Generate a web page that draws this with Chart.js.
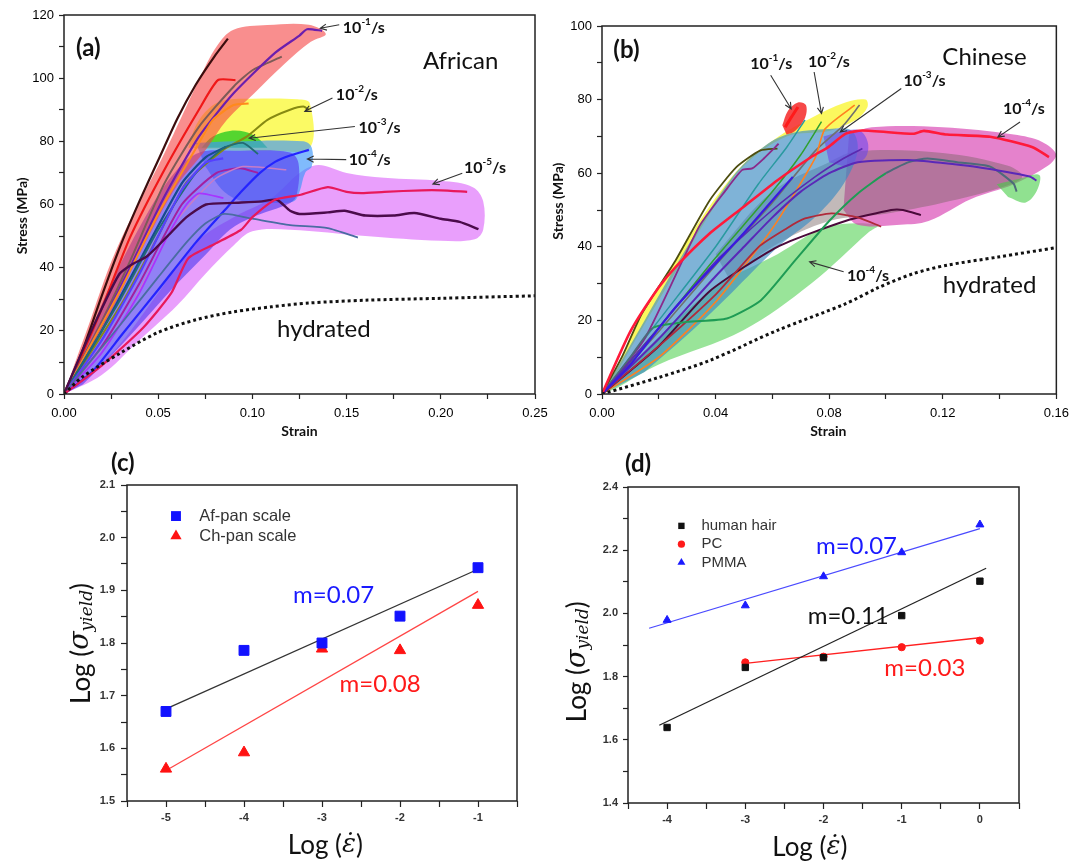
<!DOCTYPE html>
<html>
<head>
<meta charset="utf-8">
<title>Hair stress-strain vs strain rate</title>
<script src="https://cdn.jsdelivr.net/npm/chart.js@4.4.1/dist/chart.umd.min.js"></script>
<style>
  body { margin: 0; background: #fff; }
  #fig { position: relative; width: 1076px; height: 861px; overflow: hidden; }
  #fig canvas { position: absolute; }
</style>
</head>
<body>
<div id="fig">
  <canvas id="panelA" width="560" height="450" style="left:0;top:0"></canvas>
  <canvas id="panelB" width="536" height="450" style="left:540px;top:0"></canvas>
  <canvas id="panelC" width="540" height="421" style="left:0;top:440px"></canvas>
  <canvas id="panelD" width="536" height="421" style="left:540px;top:440px"></canvas>
</div>
<script>
// ---------- (a) African hair: [strain, stress MPa] ----------
const afDarkBrown = [[0,0],[0.01,14],[0.02,31],[0.03,47],[0.04,61],[0.05,74],[0.06,87],[0.07,98],[0.08,107],[0.087,112.5]];
const afRed = [[0,0],[0.01,13],[0.02,27],[0.035,49.5],[0.0533,71],[0.0716,90],[0.0817,99.4],[0.091,99.4]];
const afGrayBrown = [[0,0],[0.02,23],[0.035,42],[0.0533,66.7],[0.0716,84.6],[0.09,97.3],[0.1,102.5],[0.1156,106.8]];
const afPurple = [[0,0],[0.02,22],[0.035,40],[0.0533,62.5],[0.0716,81.5],[0.09,95.2],[0.112,108],[0.125,113.5],[0.129,115.5],[0.137,115]];
const afOrange = [[0,0],[0.03,33],[0.05,57],[0.0716,79.4],[0.079,86.8],[0.09,91.5],[0.098,92]];
const afOlive = [[0,0],[0.03,28],[0.05,50],[0.065,67],[0.0845,77.3],[0.097,81.5],[0.108,86.8],[0.12,90],[0.127,91],[0.13,90]];
const afNavy = [[0,0],[0.02,20],[0.04,42],[0.0625,66.7],[0.0753,75],[0.086,78.3]];
const afTeal = [[0,0],[0.03,30],[0.05,52],[0.07,70],[0.085,78],[0.095,79.5],[0.103,76]];
const afBlue = [[0,0],[0.02,17],[0.04,38],[0.0625,64.6],[0.0753,73.3],[0.0845,74.6]];
const afMagenta = [[0,0],[0.02,15],[0.04,35],[0.0625,60],[0.081,70],[0.0936,71.5],[0.103,70]];
const afPink = [[0,0],[0.03,22],[0.06,55],[0.08,68],[0.095,72],[0.118,71]];
const afBrightBlue = [[0,0],[0.015,7],[0.031,19],[0.05,33],[0.07,48],[0.085,58],[0.094,64],[0.104,70],[0.112,73.5],[0.12,75.5],[0.13,77.3]];
const afViolet = [[0,0],[0.02,13],[0.04,32],[0.055,50],[0.065,60],[0.0716,63.5],[0.0846,62]];
const afDarkPurple = [[0,0],[0.01,14],[0.02,27],[0.0294,38],[0.036,41],[0.0441,43.6],[0.055,50],[0.065,56],[0.0754,60],[0.09,60.5],[0.105,61],[0.113,61.5],[0.12,58],[0.125,57],[0.14,57.5],[0.149,58],[0.16,56.5],[0.175,56.5],[0.186,57.3],[0.2,55.5],[0.21,54.5],[0.22,52.2]];
const afSteel = [[0,0],[0.03,22],[0.05,37],[0.065,48],[0.075,54],[0.085,57],[0.1,55.5],[0.12,53.5],[0.14,52.5],[0.156,49.5]];
const afCrimson = [[0,0],[0.02,9],[0.042,21],[0.057,32],[0.066,43],[0.08,47.5],[0.094,52],[0.1,56],[0.112,61.5],[0.125,63],[0.14,65.5],[0.15,64],[0.158,63.6],[0.17,64],[0.19,64.5],[0.2,64.5],[0.214,64]];
const afHydrated = [[0,0],[0.01,5.5],[0.03,13],[0.05,19.5],[0.07,23.5],[0.09,26],[0.11,27.6],[0.13,28.8],[0.16,29.7],[0.2,30.3],[0.25,31.1]];
// shaded envelopes (outline of each rate group)
const afRedZone = [[0,0],[0.012,20],[0.0277,45.6],[0.0533,76.2],[0.0716,99.4],[0.081,110],[0.09,115.3],[0.108,116.8],[0.13,116.9],[0.139,114],[0.131,111.5],[0.1174,104.7],[0.101,95.2],[0.0865,86.8],[0.0753,77.3],[0.06,66],[0.045,50],[0.03,32],[0.015,14],[0.005,3]];
const afYellowZone = [[0.066,78],[0.07,85],[0.077,90.5],[0.085,93],[0.1,93.5],[0.124,93.3],[0.1305,92],[0.1305,78],[0.11,77],[0.09,77]];
const afGreenZone = [[0.073,78],[0.079,81.5],[0.088,83.3],[0.096,83],[0.103,81],[0.108,78]];
const afBlueZone = [[0.07,79.5],[0.09,80],[0.127,80],[0.1315,78],[0.1315,72],[0.128,70],[0.125,64],[0.122,61],[0.11,60.5],[0.095,61],[0.085,64],[0.075,72]];
const afFanZone = [[0,0],[0.01,14],[0.025,35],[0.045,58],[0.06,71],[0.072,76.5],[0.09,77],[0.12,76.5],[0.1245,73],[0.1235,63],[0.12,60.5],[0.1,56],[0.088,52],[0.075,44],[0.057,33],[0.042,23],[0.025,12],[0.01,3]];
const afMagentaZone = [[0,0],[0.02,6],[0.04,17],[0.06,28],[0.075,38],[0.09,47],[0.1,51.5],[0.12,52],[0.16,50],[0.2,48.5],[0.218,49],[0.2225,52],[0.2225,61],[0.217,65.5],[0.2,67.5],[0.17,68.5],[0.15,70],[0.135,72.5],[0.125,70],[0.11,62],[0.09,56],[0.07,48],[0.05,32],[0.03,16],[0.012,5]];

// ---------- (b) Chinese hair ----------
const chOlive = [[0,0],[0.007,10],[0.014,21.8],[0.0259,36.3],[0.0379,52.6],[0.0474,61.7],[0.0558,66.2],[0.0618,66.7]];
const chPurple = [[0,0],[0.015,15],[0.0342,45.5],[0.0436,55.4],[0.0494,60.9],[0.0529,61.3],[0.057,64],[0.0622,68]];
const chTeal = [[0,0],[0.02,20],[0.04,40],[0.055,57],[0.065,67],[0.0715,74.5]];
const chGreen = [[0,0],[0.02,18],[0.04,37],[0.06,55],[0.07,65],[0.0773,74]];
const chOrange = [[0,0],[0.02,10],[0.04,25],[0.06,45],[0.075,64],[0.0785,72],[0.089,78.5]];
const chGray = [[0,0],[0.02,17],[0.04,35],[0.06,52],[0.075,66],[0.085,73],[0.0907,78.5]];
const chRed = [[0,0],[0.01,17],[0.02,29],[0.0259,34.5],[0.0379,43.6],[0.0498,50.8],[0.0618,58.1],[0.0737,64.4],[0.0797,67.1],[0.0857,70.7],[0.0917,71.6],[0.1096,70.7],[0.1134,71.5],[0.1215,70.5],[0.1367,69.9],[0.1514,67.1],[0.1574,64.4]];
const chRedShort = [[0.0645,72.5],[0.0665,75],[0.069,78]];
const chBlue = [[0,0],[0.01,8],[0.0259,23.6],[0.0498,43.6],[0.0672,59]];
const chIndigo = [[0,0],[0.02,18],[0.04,36],[0.06,50],[0.075,59],[0.085,64],[0.0917,66.7]];
const chIndigoLong = [[0,0],[0.02,15],[0.04,32],[0.05,40],[0.06,48],[0.07,55],[0.08,60],[0.0901,63],[0.1076,63.6],[0.12,62.8],[0.1309,61.8],[0.1506,59.1],[0.153,58]];
const chGreenGray = [[0,0],[0.01,10],[0.018,18],[0.03,19.6],[0.044,20.5],[0.056,25.5],[0.068,36.3],[0.08,47],[0.0901,54.5],[0.1,60],[0.108,63],[0.1146,64],[0.125,63],[0.1367,61.8],[0.1449,57.2],[0.146,55]];
const chDarkRed = [[0,0],[0.02,13],[0.04,27],[0.0552,40],[0.065,45],[0.0715,47.7],[0.0808,49.1],[0.09,48],[0.0983,45.5]];
const chDarkPurple = [[0,0],[0.02,13],[0.038,28],[0.0618,40],[0.0857,47],[0.1018,50],[0.106,50],[0.1123,48.6]];
const chHydrated = [[0,0],[0.02,4.5],[0.0379,9.1],[0.0618,17.3],[0.0857,24.5],[0.0976,29],[0.1096,32.7],[0.1215,35],[0.1394,37.2],[0.16,39.8]];
const chGreenZone = [[0,0],[0.0379,28],[0.0618,38],[0.0797,45.5],[0.0976,46],[0.094,44],[0.0737,30],[0.0498,17.3],[0.02,8],[0.005,1.5]];
const chPinkZone = [[0.087,70.5],[0.095,72.5],[0.12,72.5],[0.145,70.5],[0.155,68.5],[0.16,65],[0.157,62],[0.145,57],[0.13,53],[0.115,47],[0.105,46],[0.09,46],[0.085,50]];
const chBrownZone = [[0.04,38],[0.06,55],[0.08,63],[0.09,66],[0.12,65.5],[0.143,62],[0.148,59],[0.14,56],[0.12,52],[0.1,49],[0.08,47],[0.06,40],[0.045,31]];
const chYellowZone = [[0,0],[0.006,8],[0.0128,20],[0.0259,36.5],[0.0379,51],[0.0498,62.5],[0.0618,69.8],[0.0737,75],[0.0857,79.2],[0.0928,80],[0.0935,78],[0.0895,74.5],[0.08,71.5],[0.065,70],[0.05,62],[0.038,49],[0.025,32],[0.012,15],[0.004,4]];
const chTealZone = [[0,0],[0.015,20],[0.03,40],[0.045,58],[0.055,66],[0.065,70.5],[0.08,72],[0.088,71.5],[0.09,66],[0.085,57],[0.075,48],[0.062,40],[0.045,27],[0.03,16],[0.015,6]];
const chPurpleZone = [[0.078,70],[0.085,71.5],[0.091,71.5],[0.0937,68],[0.0925,64],[0.086,62],[0.08,63]];
const chGreenTipZone = [[0.139,57],[0.147,58.5],[0.154,59.5],[0.153,55],[0.149,52],[0.143,53.5]];
const chRedZone = [[0.0635,73],[0.0655,77],[0.069,79.2],[0.0718,78.5],[0.0715,75],[0.068,71.5],[0.065,70.5]];

// ---------- (c) log yield stress vs log strain rate ----------
const rateC = [-5, -4, -3, -2, -1];
const afPanYield = [1.670, 1.786, 1.800, 1.851, 1.943];
const chPanYield = [1.561, 1.592, 1.789, 1.786, 1.872];
const fitRangeC = [-5, -1];
const afPanFit = [1.675, 1.940];
const chPanFit = [1.558, 1.898];

// ---------- (d) hair vs polymers ----------
const rateD = [-4, -3, -2, -1, 0];
const ratePC = [-3, -2, -1, 0];
const hairYield = [1.639, 1.829, 1.860, 1.993, 2.102];
const pcYield = [1.845, 1.863, 1.893, 1.914];
const pmmaYield = [1.979, 2.025, 2.117, 2.193, 2.281];
const hairFitX = [-4.1, 0.08], hairFit = [1.646, 2.143];
const pcFitX = [-3, 0], pcFit = [1.842, 1.923];
const pmmaFitX = [-4.23, 0], pmmaFit = [1.953, 2.268];

// ---------- helpers ----------
const pts = arr => arr.map(p => ({ x: p[0], y: p[1] }));
const zip = (xs, ys) => xs.map((x, i) => ({ x: x, y: ys[i] }));
const isMajor = (v, m) => Math.abs(v / m - Math.round(v / m)) < 1e-6;

function curve(data, color, width) {
  return { data: pts(data), borderColor: color, borderWidth: width || 2, pointRadius: 0, fill: false, tension: 0.2, order: 1 };
}
function zone(data, color, layer) {
  return { data: pts(data), borderColor: 'rgba(0,0,0,0)', borderWidth: 0, backgroundColor: color, pointRadius: 0, fill: 'shape', tension: 0.35, order: 50 - layer };
}
function hydrated(data) {
  return { data: pts(data), borderColor: '#111', borderWidth: 3, borderDash: [3, 3], pointRadius: 0, fill: false, tension: 0.3, order: 0 };
}
function markers(data, color, style, radius) {
  return { data: data, showLine: false, pointStyle: style, pointRadius: radius, backgroundColor: color, borderColor: color, pointBorderWidth: 1, order: 0 };
}
function fitLine(data, color) {
  return { data: data, borderColor: color, borderWidth: 1.3, pointRadius: 0, fill: false, order: 1 };
}
const rate = (exp, x, y) => ({ x: x, y: y, align: 'left', parts: [
  { text: '10', font: 'bold 16px Lato' }, { text: '-' + exp, font: 'bold 10px Lato', dy: -6 }, { text: '/s', font: 'bold 16px Lato' }] });
const word = (text, font, x, y, color) => ({ x: x, y: y, align: 'center', parts: [{ text: text, font: font, color: color }] });

function drawParts(ctx, label, px, py) {
  ctx.save();
  ctx.translate(px, py);
  if (label.rotate) ctx.rotate(label.rotate);
  ctx.textBaseline = 'middle';
  ctx.textAlign = 'left';
  const widths = label.parts.map(p => { ctx.font = p.font; return ctx.measureText(p.text).width; });
  let cx = label.align === 'center' ? -widths.reduce((a, b) => a + b, 0) / 2 : 0;
  label.parts.forEach((p, i) => {
    ctx.font = p.font;
    ctx.fillStyle = p.color || '#111';
    ctx.fillText(p.text, cx, p.dy || 0);
    cx += widths[i];
  });
  ctx.restore();
}

function drawArrow(ctx, x1, y1, x2, y2) {
  const ang = Math.atan2(y2 - y1, x2 - x1), h = 7;
  ctx.beginPath();
  ctx.moveTo(x1, y1); ctx.lineTo(x2, y2);
  ctx.moveTo(x2 - h * Math.cos(ang - 0.45), y2 - h * Math.sin(ang - 0.45));
  ctx.lineTo(x2, y2);
  ctx.lineTo(x2 - h * Math.cos(ang + 0.45), y2 - h * Math.sin(ang + 0.45));
  ctx.strokeStyle = '#333';
  ctx.lineWidth = 1.1;
  ctx.stroke();
}

function drawMarker(ctx, shape, x, y, r, color) {
  ctx.fillStyle = color;
  ctx.beginPath();
  if (shape === 'rect') {
    const s = r * Math.SQRT1_2;
    ctx.rect(x - s, y - s, 2 * s, 2 * s);
  } else if (shape === 'triangle') {
    for (let k = 0; k < 3; k++) {
      const a = k * 2 * Math.PI / 3;
      ctx[k ? 'lineTo' : 'moveTo'](x + Math.sin(a) * r, y - Math.cos(a) * r);
    }
    ctx.closePath();
  } else {
    ctx.arc(x, y, r, 0, Math.PI * 2);
  }
  ctx.fill();
}

// frame, free text, arrows and legend, all placed in data units
const decor = {
  id: 'decor',
  afterDraw(chart, args, opts) {
    const { ctx, chartArea: a } = chart;
    const sx = chart.scales.x, sy = chart.scales.y;
    ctx.save();
    ctx.strokeStyle = '#222';
    ctx.lineWidth = 1.5;
    ctx.strokeRect(a.left, a.top, a.right - a.left, a.bottom - a.top);
    (opts.arrows || []).forEach(r => drawArrow(ctx, sx.getPixelForValue(r[0]), sy.getPixelForValue(r[1]), sx.getPixelForValue(r[2]), sy.getPixelForValue(r[3])));
    (opts.labels || []).forEach(l => drawParts(ctx, l, sx.getPixelForValue(l.x), sy.getPixelForValue(l.y)));
    (opts.legend || []).forEach(l => {
      drawMarker(ctx, l.shape, sx.getPixelForValue(l.x), sy.getPixelForValue(l.y), l.r, l.color);
      ctx.font = opts.legendFont;
      ctx.fillStyle = '#333';
      ctx.textBaseline = 'middle';
      ctx.fillText(l.text, sx.getPixelForValue(l.tx), sy.getPixelForValue(l.y));
    });
    ctx.restore();
  }
};

function linearAxis(cfg) {
  return {
    type: 'linear', min: cfg.min, max: cfg.max,
    afterFit: s => { if (cfg.height) s.height = cfg.height; if (cfg.width) s.width = cfg.width; },
    border: { display: false },
    grid: { display: true, drawOnChartArea: false, drawTicks: true, tickLength: cfg.tick, tickColor: '#222', tickWidth: 1.2 },
    ticks: {
      stepSize: cfg.step, autoSkip: false, maxRotation: 0, padding: cfg.pad, color: cfg.color,
      font: cfg.font,
      callback: v => isMajor(v, cfg.major) ? v.toFixed(cfg.digits) : ''
    }
  };
}

function makeChart(id, datasets, axes, padding, decorOpts) {
  return new Chart(document.getElementById(id), {
    type: 'line',
    data: { datasets: datasets },
    options: {
      responsive: false, animation: false, events: [],
      layout: { padding: padding },
      plugins: { legend: { display: false }, tooltip: { enabled: false }, decor: decorOpts },
      scales: { x: axes.x, y: axes.y }
    },
    plugins: [decor]
  });
}

const bigTick = { family: 'Liberation Sans', size: 13 };
const smallTick = { family: 'Liberation Sans', size: 11, weight: 'bold' };
const axisTitle = 'bold 14px Lato';

// ---------- panel (a) ----------
makeChart('panelA', [
  hydrated(afHydrated),
  curve(afCrimson, '#e8195a', 2.2), curve(afDarkPurple, '#4b0b4b', 2.4), curve(afSteel, '#4a6ca2', 1.8),
  curve(afBrightBlue, '#2424ff', 2.2), curve(afViolet, '#a734ff', 1.8), curve(afPink, '#c77cc7', 1.5),
  curve(afMagenta, '#a3209f', 2), curve(afBlue, '#5640ff', 2.2), curve(afTeal, '#226c74', 1.8),
  curve(afNavy, '#164c8c', 2.2), curve(afOlive, '#878a12', 2), curve(afOrange, '#ff8a1c', 2),
  curve(afPurple, '#6b1fae', 2.2), curve(afGrayBrown, '#7d5b57', 2), curve(afRed, '#f01818', 2.2),
  curve(afDarkBrown, '#3c0d0d', 2.2),
  zone(afMagentaZone, 'rgba(220,100,250,0.62)', 0),
  zone(afYellowZone, 'rgba(250,248,40,0.72)', 1),
  zone(afGreenZone, 'rgba(30,200,30,0.75)', 2),
  zone(afBlueZone, 'rgba(60,150,250,0.65)', 3),
  zone(afFanZone, 'rgba(88,64,240,0.66)', 4),
  zone(afRedZone, 'rgba(245,60,60,0.58)', 5)
], {
  x: linearAxis({ min: 0, max: 0.25, step: 0.025, major: 0.05, digits: 2, height: 56, tick: 5, pad: 7, color: '#000', font: bigTick }),
  y: linearAxis({ min: 0, max: 120, step: 10, major: 20, digits: 0, width: 64, tick: 5, pad: 5, color: '#000', font: bigTick })
}, { left: 0, top: 15, right: 25, bottom: 0 }, {
  labels: [
    word('(a)', 'bold 24px Lato', 0.0129, 109.5),
    word('African', '24px Lato', 0.2105, 105.3),
    word('hydrated', '24px Lato', 0.1379, 20.4),
    rate('1', 0.148, 115.8), rate('2', 0.1443, 94.7), rate('3', 0.1563, 84.4),
    rate('4', 0.1511, 74.2), rate('5', 0.2123, 71.5),
    word('Strain', axisTitle, 0.125, -12),
    Object.assign(word('Stress (MPa)', axisTitle, -0.0223, 56.4), { rotate: -Math.PI / 2 })
  ],
  arrows: [
    [0.1461, 116.9, 0.136, 115.8], [0.1425, 93.7, 0.1278, 89.5], [0.1544, 84.7, 0.0983, 81],
    [0.1498, 74.2, 0.1292, 74.4], [0.2114, 69.9, 0.1958, 66.5]
  ]
});

// ---------- panel (b) ----------
const greenGray = curve(chGreenGray, '#4d6a7a', 2);
greenGray.segment = { borderColor: c => c.p0.parsed.x < 0.092 && c.p0.parsed.x > 0.015 ? '#1f9c55' : '#4d6a7a' };
makeChart('panelB', [
  hydrated(chHydrated),
  curve(chRed, '#ff1a3a', 2.6), curve(chRedShort, '#ff1a1a', 3),
  curve(chBlue, '#3a1ae0', 2.2), curve(chIndigo, '#5a2ab0', 1.6), curve(chIndigoLong, '#5a28b8', 2),
  greenGray, curve(chDarkRed, '#b02a3a', 1.8), curve(chDarkPurple, '#4a0a3a', 2),
  curve(chPurple, '#8a2a8a', 1.8), curve(chTeal, '#2a9aa0', 1.5), curve(chGreen, '#30a030', 1.5),
  curve(chOrange, '#ff8020', 1.6), curve(chGray, '#707070', 1.6), curve(chOlive, '#4e4e10', 1.8),
  zone(chGreenZone, 'rgba(70,205,70,0.55)', 0),
  zone(chPinkZone, 'rgba(215,60,175,0.64)', 1),
  zone(chBrownZone, 'rgba(120,100,100,0.45)', 2),
  zone(chYellowZone, 'rgba(250,245,40,0.75)', 3),
  zone(chTealZone, 'rgba(60,140,195,0.66)', 4),
  zone(chPurpleZone, 'rgba(110,70,235,0.6)', 5),
  zone(chGreenTipZone, 'rgba(70,205,70,0.6)', 6),
  zone(chRedZone, 'rgba(245,40,40,0.85)', 7)
], {
  x: linearAxis({ min: 0, max: 0.16, step: 0.02, major: 0.04, digits: 2, height: 56, tick: 5, pad: 7, color: '#000', font: bigTick }),
  y: linearAxis({ min: 0, max: 100, step: 10, major: 20, digits: 0, width: 62, tick: 5, pad: 5, color: '#000', font: bigTick })
}, { left: 0, top: 26, right: 16, bottom: 0 }, {
  labels: [
    word('(b)', 'bold 24px Lato', 0.0086, 93.4),
    word('Chinese', '24px Lato', 0.1347, 91.6),
    word('hydrated', '24px Lato', 0.1365, 29.5),
    rate('1', 0.0522, 89.8), rate('2', 0.0725, 90.2), rate('3', 0.1062, 85.2),
    rate('4', 0.1412, 77.5), rate('4', 0.0863, 32.2),
    word('Strain', axisTitle, 0.0797, -10.3),
    Object.assign(word('Stress (MPa)', axisTitle, -0.0153, 52.4), { rotate: -Math.PI / 2 })
  ],
  arrows: [
    [0.0594, 86.6, 0.0666, 77.5], [0.0747, 87.5, 0.0773, 76.2], [0.1054, 83, 0.0839, 71.2],
    [0.1472, 73.9, 0.1394, 69.8], [0.0851, 33.2, 0.0731, 35.9]
  ]
});

// ---------- panels (c), (d): axis titles with math ----------
const logRate = (x, y) => ({ x: x, y: y, align: 'center', parts: [
  { text: 'Log (', font: '26px Lato' }, { text: 'ε\u0307', font: 'italic 26px "DejaVu Serif"' }, { text: ')', font: '26px Lato' }] });
const logYield = (x, y) => ({ x: x, y: y, align: 'center', rotate: -Math.PI / 2, parts: [
  { text: 'Log (', font: '26px Lato' }, { text: 'σ', font: 'italic 27px "DejaVu Serif"' },
  { text: 'yield', font: 'italic 17px "DejaVu Serif"', dy: 6 }, { text: ')', font: '26px Lato' }] });

makeChart('panelC', [
  markers(zip(rateC, afPanYield), '#1212ff', 'rect', 7),
  markers(zip(rateC, chPanYield), '#ff1212', 'triangle', 6.5),
  fitLine(zip(fitRangeC, afPanFit), '#333'),
  fitLine(zip(fitRangeC, chPanFit), '#ff4545')
], {
  x: linearAxis({ min: -5.5, max: -0.5, step: 0.5, major: 1, digits: 0, height: 60, tick: 6, pad: 4, color: '#333', font: smallTick }),
  y: linearAxis({ min: 1.5, max: 2.1, step: 0.05, major: 0.1, digits: 1, width: 127, tick: 6, pad: 6, color: '#333', font: smallTick })
}, { left: 0, top: 45, right: 23, bottom: 0 }, {
  labels: [
    word('(c)', 'bold 24px Lato', -5.553, 2.141),
    word('m=0.07', '24px Lato', -2.851, 1.890, '#1a1aff'),
    word('m=0.08', '24px Lato', -2.255, 1.722, '#ff1a1a'),
    logRate(-2.957, 1.416),
    logYield(-6.085, 1.799)
  ],
  legendFont: '16.5px "Liberation Sans"',
  legend: [
    { shape: 'rect', r: 7, color: '#1212ff', x: -4.872, y: 2.041, tx: -4.574, text: 'Af-pan scale' },
    { shape: 'triangle', r: 6.5, color: '#ff1212', x: -4.872, y: 2.003, tx: -4.574, text: 'Ch-pan scale' }
  ]
});

makeChart('panelD', [
  markers(zip(rateD, hairYield), '#111', 'rect', 4.5),
  markers(zip(ratePC, pcYield), '#ff1a1a', 'circle', 3.6),
  markers(zip(rateD, pmmaYield), '#1a1aff', 'triangle', 4.6),
  fitLine(zip(hairFitX, hairFit), '#222'),
  fitLine(zip(pcFitX, pcFit), '#ff2020'),
  fitLine(zip(pmmaFitX, pmmaFit), '#4a4aff')
], {
  x: linearAxis({ min: -4.5, max: 0.5, step: 0.5, major: 1, digits: 0, height: 58, tick: 6, pad: 4, color: '#333', font: smallTick }),
  y: linearAxis({ min: 1.4, max: 2.4, step: 0.1, major: 0.2, digits: 1, width: 88, tick: 5, pad: 5, color: '#333', font: smallTick })
}, { left: 0, top: 47, right: 57, bottom: 0 }, {
  labels: [
    word('(d)', 'bold 24px Lato', -4.371, 2.471),
    word('m=0.07', '24px Lato', -1.578, 2.214, '#1a1aff'),
    word('m=0.11', '24px Lato', -1.684, 1.992, '#111'),
    word('m=0.03', '24px Lato', -0.704, 1.826, '#ff1a1a'),
    logRate(-2.175, 1.260),
    logYield(-5.139, 1.847)
  ],
  legendFont: '15px "Liberation Sans"',
  legend: [
    { shape: 'rect', r: 4.5, color: '#111', x: -3.817, y: 2.277, tx: -3.561, text: 'human hair' },
    { shape: 'circle', r: 3.6, color: '#ff1a1a', x: -3.817, y: 2.219, tx: -3.561, text: 'PC' },
    { shape: 'triangle', r: 4.6, color: '#1a1aff', x: -3.817, y: 2.161, tx: -3.561, text: 'PMMA' }
  ]
});
</script>
</body>
</html>
